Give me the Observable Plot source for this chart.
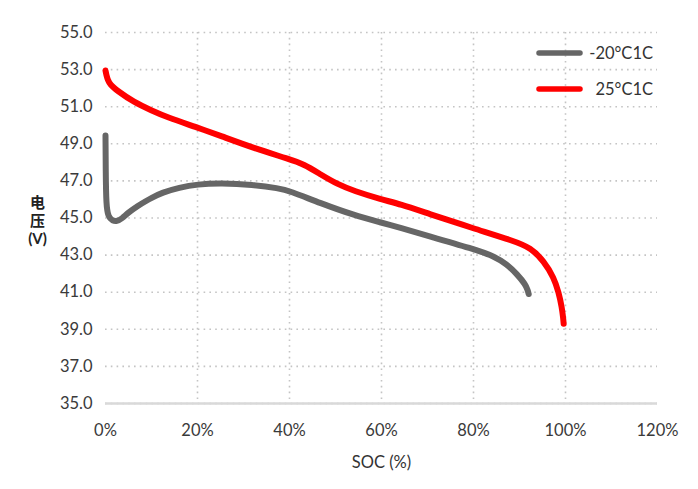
<!DOCTYPE html>
<html>
<head>
<meta charset="utf-8">
<script src="https://cdn.jsdelivr.net/npm/d3@7"></script>
<script src="https://cdn.jsdelivr.net/npm/@observablehq/plot@0.6"></script>
<style>
  html, body { margin: 0; padding: 0; background: #fff; }
  #wrap { position: relative; width: 698px; height: 489px; }
  #legend { position: absolute; left: 0; top: 0; }
</style>
</head>
<body>
<div id="wrap"></div>
<script>
// ---- data ----
const seriesNames = ["-20°C1C", "25°C1C"];
const seriesColors = ["#666666", "#ff0000"];

const coldSoc = [0, 0.05, 0.15, 0.6, 1.5, 2.5, 3.5, 5, 7, 8.7, 10, 12.3, 16, 20, 25, 32, 37.7, 40, 46.7, 54, 60, 64, 70, 80, 84.4, 87.3, 89.5, 91.3, 91.8, 92];
const coldV   = [49.45, 47.5, 45.7, 45.05, 44.85, 44.82, 44.95, 45.3, 45.65, 45.9, 46.08, 46.37, 46.64, 46.82, 46.88, 46.8, 46.6, 46.46, 45.8, 45.15, 44.75, 44.48, 44.05, 43.33, 42.95, 42.5, 41.96, 41.42, 41.1, 40.9];

const warmSoc = [0, 0.2, 0.5, 1, 2.5, 6.2, 10, 13.4, 19.7, 25, 32.2, 40, 43.1, 46.7, 50.4, 54, 60, 64.1, 70, 80, 88.8, 92.4, 95.3, 97.5, 98.5, 99.2, 99.5, 99.6];
const warmV   = [52.95, 52.7, 52.45, 52.2, 51.87, 51.24, 50.8, 50.43, 49.9, 49.43, 48.77, 48.17, 47.9, 47.36, 46.82, 46.46, 46.0, 45.74, 45.25, 44.44, 43.76, 43.4, 42.68, 41.77, 41.0, 40.2, 39.6, 39.3];

const yTicks = [35, 37, 39, 41, 43, 45, 47, 49, 51, 53, 55];
const xTicks = [0, 20, 40, 60, 80, 100, 120];
const xGrid  = [20, 40, 60, 80, 100];
const yLabel = "电\n压\n(V)";
const xLabel = "SOC (%)";

// ---- build table ----
const cold = coldSoc.map((s, i) => ({soc: s, v: coldV[i], series: seriesNames[0]}));
const warm = warmSoc.map((s, i) => ({soc: s, v: warmV[i], series: seriesNames[1]}));

const font = "Lato, 'Noto Sans', 'Noto Sans CJK SC', sans-serif";

const chart = Plot.plot({
  width: 698,
  height: 489,
  marginTop: 32,
  marginBottom: 86,
  marginLeft: 105,
  marginRight: 41,
  style: {fontFamily: font, fontSize: "16.5px", color: "#3a3a3a", background: "#fff"},
  x: {domain: [0, 120]},
  y: {domain: [35, 55]},
  marks: [
    Plot.gridY(yTicks, {stroke: "#c4c4c4", strokeOpacity: 1, strokeWidth: 1.6, strokeDasharray: "1.6,4.2"}),
    Plot.gridX(xGrid, {stroke: "#c4c4c4", strokeOpacity: 1, strokeWidth: 1.6, strokeDasharray: "1.6,4.2"}),
    Plot.ruleY([35], {stroke: "#d9d9d9", strokeWidth: 2.5}),
    Plot.axisY(yTicks, {tickSize: 0, tickPadding: 13, tickFormat: d3.format(".1f"), label: null, fill: "#3a3a3a"}),
    Plot.axisX(xTicks, {tickSize: 0, tickPadding: 21, tickFormat: d => d + "%", label: null, fill: "#3a3a3a"}),
    Plot.line(cold, {x: "soc", y: "v", stroke: seriesColors[0], strokeWidth: 6, curve: "basis"}),
    Plot.line(warm, {x: "soc", y: "v", stroke: seriesColors[1], strokeWidth: 6, curve: "basis"}),
    Plot.text([yLabel], {frameAnchor: "left", dx: -68, dy: 2, textAnchor: "middle", lineHeight: 1.2, fontSize: 15, fill: "#222", fontWeight: 700, fontFamily: font}),
    Plot.text([xLabel], {frameAnchor: "bottom", dy: 59, lineAnchor: "middle", textAnchor: "middle", fontSize: 16.5, fill: "#333"})
  ]
});

const wrap = document.getElementById("wrap");
wrap.appendChild(chart);

// ---- legend overlay ----
const ns = "http://www.w3.org/2000/svg";
const leg = document.createElementNS(ns, "svg");
leg.setAttribute("id", "legend");
leg.setAttribute("width", 698);
leg.setAttribute("height", 120);
const rowY = [53, 89];
seriesNames.forEach((name, i) => {
  const ln = document.createElementNS(ns, "line");
  ln.setAttribute("x1", 539); ln.setAttribute("x2", 580);
  ln.setAttribute("y1", rowY[i]); ln.setAttribute("y2", rowY[i]);
  ln.setAttribute("stroke", seriesColors[i]);
  ln.setAttribute("stroke-width", 5.5);
  ln.setAttribute("stroke-linecap", "round");
  leg.appendChild(ln);
  const t = document.createElementNS(ns, "text");
  t.setAttribute("x", 653); t.setAttribute("y", rowY[i]);
  t.setAttribute("text-anchor", "end");
  t.setAttribute("dominant-baseline", "central");
  t.setAttribute("font-family", font);
  t.setAttribute("font-size", "16.5px");
  t.setAttribute("fill", "#333");
  t.textContent = name;
  leg.appendChild(t);
});
wrap.appendChild(leg);
</script>
</body>
</html>
